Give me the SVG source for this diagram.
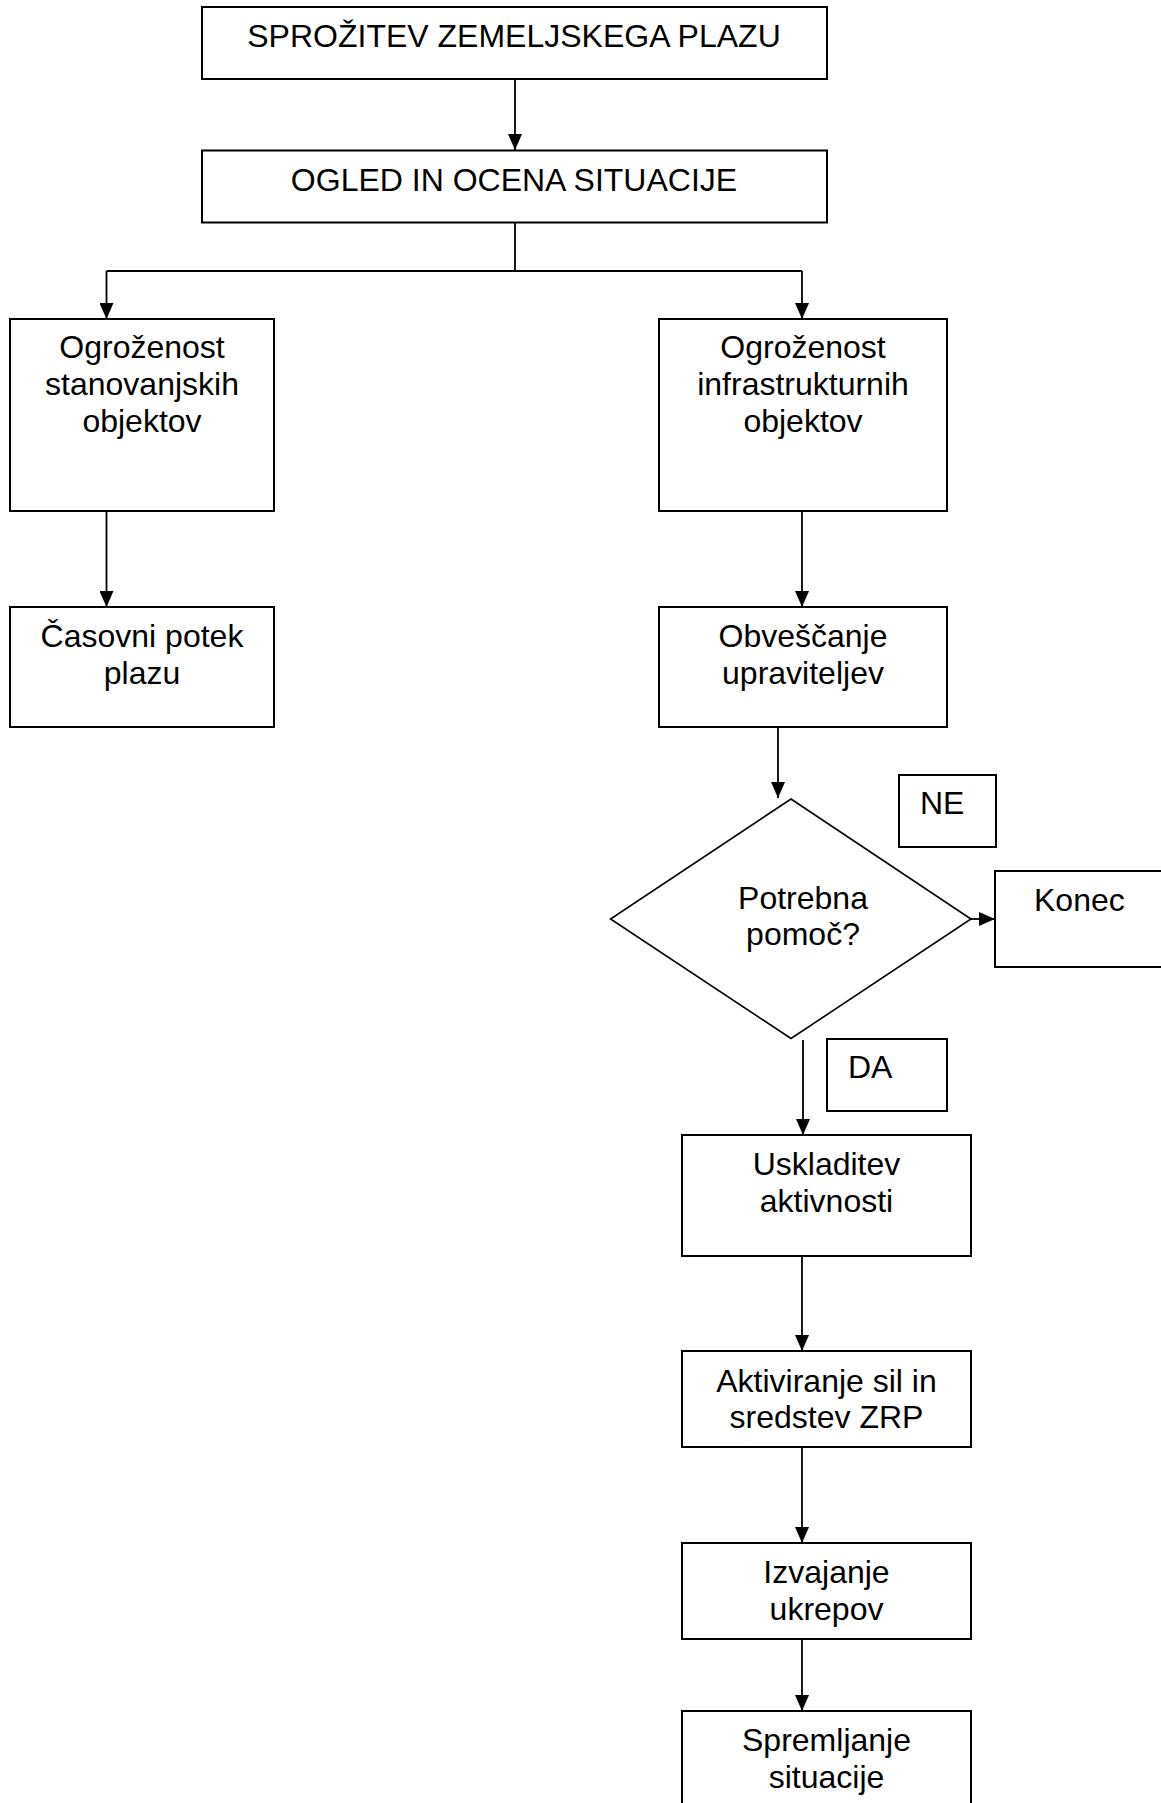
<svg xmlns="http://www.w3.org/2000/svg" width="1161" height="1803" viewBox="0 0 1161 1803">
<style>
.box{fill:#fff;stroke:#000;stroke-width:2}
.dia{fill:#fff;stroke:#000;stroke-width:1.6}
.t{font-family:"Liberation Sans",Arial,sans-serif;font-size:32px;fill:#000}
.c{text-anchor:middle}
.ln{fill:none;stroke:#000;stroke-width:1.8}
</style>
<defs>
<marker id="ah" markerUnits="userSpaceOnUse" markerWidth="16" markerHeight="14" refX="16" refY="7" orient="auto">
<path d="M0,0 L16,7 L0,14 z" fill="#000"/>
</marker>
</defs>
<rect width="1161" height="1803" fill="#fff"/>
<g id="connectors">
<path class="ln" d="M515,79 V150" marker-end="url(#ah)"/>
<path class="ln" d="M515,222.5 V271 M106.5,271 H802"/>
<path class="ln" d="M106.5,271 V319" marker-end="url(#ah)"/>
<path class="ln" d="M802,271 V319" marker-end="url(#ah)"/>
<path class="ln" d="M106.5,511 V607" marker-end="url(#ah)"/>
<path class="ln" d="M802,511 V607" marker-end="url(#ah)"/>
<path class="ln" d="M778,727 V798" marker-end="url(#ah)"/>
<path class="ln" d="M971,919 H995" marker-end="url(#ah)"/>
<path class="ln" d="M803,1040 V1135" marker-end="url(#ah)"/>
<path class="ln" d="M802,1256 V1351" marker-end="url(#ah)"/>
<path class="ln" d="M802,1447 V1543" marker-end="url(#ah)"/>
<path class="ln" d="M802,1639 V1711" marker-end="url(#ah)"/>
</g>
<g id="n1"><rect class="box" x="202" y="7" width="625" height="72"/><text class="t c" x="514" y="47">SPROŽITEV ZEMELJSKEGA PLAZU</text></g>
<g id="n2"><rect class="box" x="202" y="150.5" width="625" height="72"/><text class="t c" x="514" y="190.5">OGLED IN OCENA SITUACIJE</text></g>
<g id="n3"><rect class="box" x="10" y="319" width="264" height="192"/><text class="t c" x="142" y="358">Ogroženost</text><text class="t c" x="142" y="394.8">stanovanjskih</text><text class="t c" x="142" y="431.6">objektov</text></g>
<g id="n4"><rect class="box" x="659" y="319" width="288" height="192"/><text class="t c" x="803" y="358">Ogroženost</text><text class="t c" x="803" y="394.8">infrastrukturnih</text><text class="t c" x="803" y="431.6">objektov</text></g>
<g id="n5"><rect class="box" x="10" y="607" width="264" height="120"/><text class="t c" x="142" y="647">Časovni potek</text><text class="t c" x="142" y="683.8">plazu</text></g>
<g id="n6"><rect class="box" x="659" y="607" width="288" height="120"/><text class="t c" x="803" y="647">Obveščanje</text><text class="t c" x="803" y="683.8">upraviteljev</text></g>
<g id="n7"><path class="dia" d="M791,799 L971,919 L791,1038.5 L610.5,919 Z"/><text class="t c" x="803" y="908.5">Potrebna</text><text class="t c" x="803" y="945.3">pomoč?</text></g>
<g id="n8"><rect class="box" x="899" y="775" width="97" height="72"/><text class="t" x="920" y="814">NE</text></g>
<g id="n9"><rect class="box" x="995" y="871" width="200" height="96"/><text class="t" x="1034" y="910.7">Konec</text></g>
<g id="n10"><rect class="box" x="827" y="1039" width="120" height="72"/><text class="t" x="848" y="1078">DA</text></g>
<g id="n11"><rect class="box" x="682" y="1135" width="289" height="121"/><text class="t c" x="826.5" y="1175">Uskladitev</text><text class="t c" x="826.5" y="1211.8">aktivnosti</text></g>
<g id="n12"><rect class="box" x="682" y="1351" width="289" height="96"/><text class="t c" x="826.5" y="1391.5">Aktiviranje sil in</text><text class="t c" x="826.5" y="1428">sredstev ZRP</text></g>
<g id="n13"><rect class="box" x="682" y="1543" width="289" height="96"/><text class="t c" x="826.5" y="1583">Izvajanje</text><text class="t c" x="826.5" y="1619.8">ukrepov</text></g>
<g id="n14"><rect class="box" x="682" y="1711" width="289" height="130"/><text class="t c" x="826.5" y="1750.7">Spremljanje</text><text class="t c" x="826.5" y="1787.5">situacije</text></g>
</svg>
